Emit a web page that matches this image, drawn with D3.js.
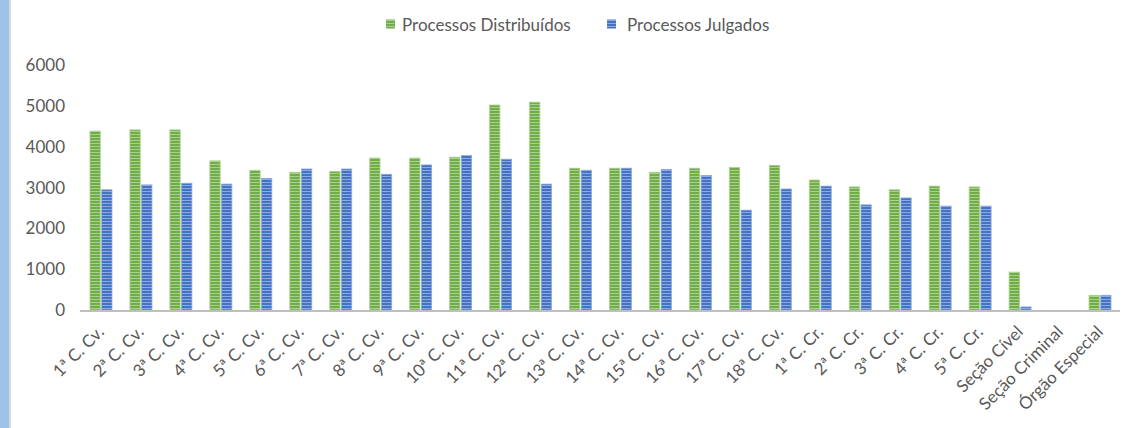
<!DOCTYPE html>
<html>
<head>
<meta charset="utf-8">
<script src="https://cdn.jsdelivr.net/npm/d3@7"></script>
<style>
  body { margin: 0; background: #fff; }
  svg { display: block; font-family: Lato, "Open Sans", sans-serif; }
</style>
</head>
<body>
<svg id="chart" width="1126" height="428"></svg>
<script>
// dados
var categorias = ["1ª C. Cv.", "2ª C. Cv.", "3ª C. Cv.", "4ª C. Cv.", "5ª C. Cv.", "6ª C. Cv.", "7ª C. Cv.",
  "8ª C. Cv.", "9ª C. Cv.", "10ª C. Cv.", "11ª C. Cv.", "12ª C. Cv.", "13ª C. Cv.", "14ª C. Cv.",
  "15ª C. Cv.", "16ª C. Cv.", "17ª C. Cv.", "18ª C. Cv.", "1ª C. Cr.", "2ª C. Cr.", "3ª C. Cr.",
  "4ª C. Cr.", "5ª C. Cr.", "Seção Cível", "Seção Criminal", "Órgão Especial"];
var distribuidos = [4390, 4420, 4420, 3660, 3430, 3380, 3400, 3730, 3730, 3750, 5030, 5100, 3480, 3480,
  3380, 3480, 3500, 3550, 3190, 3020, 2950, 3040, 3020, 930, 0, 360];
var julgados = [2950, 3070, 3110, 3090, 3230, 3460, 3460, 3330, 3560, 3790, 3700, 3090, 3430, 3480,
  3450, 3300, 2450, 2970, 3040, 2580, 2750, 2550, 2550, 75, 0, 360];
var series = ["Processos Distribuídos", "Processos Julgados"];
var yTicks = [0, 1000, 2000, 3000, 4000, 5000, 6000];

var cores = ["#70AD47", "#4472C4"];
var claras = ["#A9D08E", "#8EA9DB"];

var svg = d3.select("#chart");

// faixa azul na esquerda
svg.append("rect").attr("x", 0).attr("y", 0).attr("width", 9).attr("height", 428).attr("fill", "#9DC3E6");
svg.append("rect").attr("x", 9).attr("y", 0).attr("width", 2).attr("height", 428).attr("fill", "#D9D9D9");

// padrões listrados
var defs = svg.append("defs");
cores.forEach(function(c, i) {
  var p = defs.append("pattern").attr("id", "listra" + i)
    .attr("patternUnits", "userSpaceOnUse").attr("width", 4).attr("height", 3);
  p.append("rect").attr("width", 4).attr("height", 3).attr("fill", c);
  p.append("rect").attr("y", 2).attr("width", 4).attr("height", 1).attr("fill", claras[i]);
});

var x0 = d3.scaleBand().domain(categorias).range([81, 1120]).paddingInner(0.38).paddingOuter(0.19);
var x1 = d3.scaleBand().domain(series).range([0, x0.bandwidth()]).padding(0.12);
var y = d3.scaleLinear().domain([0, 6000]).range([310, 65.5]);

var dados = categorias.map(function(c, i) {
  return { cat: c, valores: [distribuidos[i], julgados[i]] };
});

var grupos = svg.selectAll("g.grupo").data(dados).enter().append("g")
  .attr("class", "grupo")
  .attr("transform", function(d) { return "translate(" + x0(d.cat) + ",0)"; });

grupos.selectAll("rect").data(function(d) {
    return d.valores.map(function(v, i) { return { s: i, v: v }; });
  }).enter().append("rect")
  .filter(function(d) { return d.v > 0; })
  .attr("x", function(d) { return x1(series[d.s]); })
  .attr("y", function(d) { return y(d.v); })
  .attr("width", x1.bandwidth())
  .attr("height", function(d) { return y(0) - y(d.v); })
  .attr("fill", function(d) { return "url(#listra" + d.s + ")"; })
  .attr("stroke", function(d) { return claras[d.s]; })
  .attr("stroke-width", 0.8);

// eixo y
var eixoY = svg.append("g").attr("transform", "translate(65,0)")
  .call(d3.axisLeft(y).tickValues(yTicks).tickSize(0).tickPadding(0).tickFormat(d3.format("d")));
eixoY.select(".domain").remove();
eixoY.selectAll("text").attr("fill", "#595959").style("font-size", "17px").style("font-family", "Lato, sans-serif");

// linha base
svg.append("line").attr("x1", 80).attr("x2", 1120).attr("y1", y(0) + 1).attr("y2", y(0) + 1)
  .attr("stroke", "#BFBFBF").attr("stroke-width", 2);

// rótulos x
svg.selectAll("text.rotulo").data(categorias).enter().append("text")
  .attr("class", "rotulo")
  .attr("transform", function(d) {
    return "translate(" + (x0(d) + x0.bandwidth() / 2 + 4) + ",333) rotate(-45)";
  })
  .attr("text-anchor", "end")
  .attr("fill", "#595959")
  .style("font-size", "17px")
  .text(function(d) { return d; });

// legenda
var legenda = [{ x: 386, tx: 402, t: series[0], i: 0 }, { x: 607, tx: 627, t: series[1], i: 1 }];
legenda.forEach(function(l) {
  svg.append("rect").attr("x", l.x).attr("y", 19.5).attr("width", 9).attr("height", 9)
    .attr("fill", "url(#listra" + l.i + ")");
  svg.append("text").attr("x", l.tx).attr("y", 30.5).attr("fill", "#595959")
    .style("font-size", "17px").text(l.t);
});
</script>
</body>
</html>
